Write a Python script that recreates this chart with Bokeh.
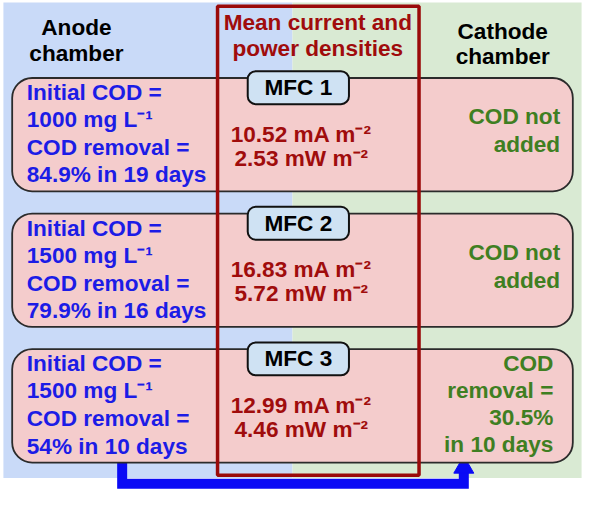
from bokeh.plotting import figure
from bokeh.models import Range1d
from bokeh.embed import file_html
from bokeh.resources import INLINE
from bokeh.core.properties import value

# ---------------- data ----------------
mfc_names = ["MFC 1", "MFC 2", "MFC 3"]
initial_cod = [1000, 1500, 1500]          # mg L-1
anode_removal = ["84.9% in 19 days", "79.9% in 16 days", "54% in 10 days"]
current_density = [10.52, 16.83, 12.99]   # mA m-2
power_density = [2.53, 5.72, 4.46]        # mW m-2
cathode_lines = [["COD not", "added"], ["COD not", "added"],
                 ["COD", "removal =", "30.5%", "in 10 days"]]
header_anode = ["Anode", "chamber"]
header_mid = ["Mean current and", "power densities"]
header_cathode = ["Cathode", "chamber"]

# ---------------- layout (reference pixel coordinates) ----------------
W, H = 600, 510
row_top = [80, 220, 360]
row_h = 117
FONT = value("Liberation Sans")
FS = value("22.6px")
BLUE_T = "#1c1ce6"
RED_T = "#a00c0c"
GREEN_T = "#3f7f22"

p = figure(width=584, height=494, x_range=Range1d(0, W), y_range=Range1d(H, 0),
           output_backend="svg", toolbar_location=None, min_border=0,
           background_fill_color="white", border_fill_color="white")
p.axis.visible = False
p.grid.visible = False
p.outline_line_color = None

# backgrounds
p.quad(left=[3], right=[300], top=[2], bottom=[493], fill_color="#c9daf8", line_color=None)
p.quad(left=[300], right=[597], top=[2], bottom=[493], fill_color="#d9ead3", line_color=None)

# blue connector (anode -> cathode of MFC 3)
p.line(x=[125, 125, 476, 476], y=[row_top[2] + row_h, 499, 499, 486],
       line_width=10, line_color="#0a0af5", line_join="miter")
p.scatter(x=[476], y=[482], marker="triangle", size=20,
          fill_color="#0a0af5", line_color="#0a0af5")

# rows
tops = row_top
p.quad(left=[12] * 3, right=[588] * 3, top=[t for t in tops],
       bottom=[t + row_h for t in tops], fill_color="#f4cccc",
       line_color="#2b2b2b", line_width=1.8, border_radius=20)

# red centre frame
p.quad(left=[223], right=[430], top=[6], bottom=[490], fill_color=None,
       line_color="#9a0a0a", line_width=3.5)

# MFC labels
p.quad(left=[254] * 3, right=[358] * 3, top=[t - 7 for t in tops],
       bottom=[t + 27 for t in tops], fill_color="#cfe2f3",
       line_color="#111111", line_width=2, border_radius=8)
p.text(x=[306] * 3, y=[t + 10 for t in tops], text=mfc_names,
       text_font=FONT, text_font_style="bold", text_font_size=FS,
       text_color="black", text_align="center", text_baseline="middle")

# headers
def lines(xs, ys, texts, color, align):
    p.text(x=xs, y=ys, text=texts, text_font=FONT, text_font_style="bold",
           text_font_size=FS, text_color=color, text_align=align,
           text_baseline="middle")

lines([78, 78], [28, 55], header_anode, "black", "center")
lines([326, 326], [23, 50], header_mid, RED_T, "center")
lines([516, 516], [32, 58], header_cathode, "black", "center")

# anode texts
lx, ly, lt = [], [], []
for t, cod, rem in zip(tops, initial_cod, anode_removal):
    for dy, s in zip([15, 43, 72, 100],
                     ["Initial COD =", f"{cod} mg L\u207b\u00b9", "COD removal =", rem]):
        lx.append(27); ly.append(t + dy); lt.append(s)
lines(lx, ly, lt, BLUE_T, "left")

# densities
mx, my, mt = [], [], []
for t, c, pw in zip(tops, current_density, power_density):
    mx += [309, 309]
    my += [t + 58, t + 83]
    mt += [f"{c:.2f} mA m\u207b\u00b2", f"{pw:.2f} mW m\u207b\u00b2"]
lines(mx, my, mt, RED_T, "center")

# cathode texts
cx, cy, ct = [], [], []
for t, ls in zip(tops, cathode_lines):
    if len(ls) == 2:
        offs, xr = [40, 69], 575
    else:
        offs, xr = [15, 43, 70, 98], 568
    for dy, s in zip(offs, ls):
        cx.append(xr); cy.append(t + dy); ct.append(s)
lines(cx, cy, ct, GREEN_T, "right")

open("out.html", "w").write(file_html(p, INLINE))
